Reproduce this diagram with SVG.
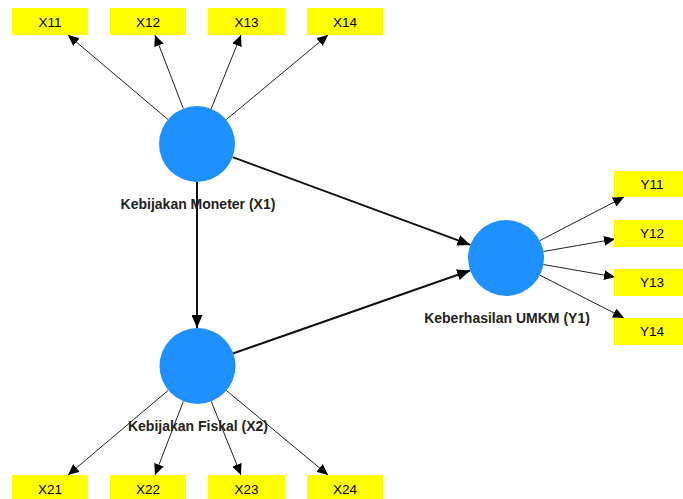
<svg xmlns="http://www.w3.org/2000/svg" width="683" height="499" viewBox="0 0 683 499">
<style>
.box{fill:#ffff00;}
.bt{font-family:"Liberation Sans",Arial,sans-serif;font-size:13.5px;fill:#000;text-anchor:middle;}
.lv{fill:#1e90ff;}
.lt{font-family:"Liberation Sans",Arial,sans-serif;font-size:14px;font-weight:bold;fill:#222;text-anchor:middle;}
.thin{stroke:#222;stroke-width:1;fill:none;marker-end:url(#a1);}
.thick{stroke:#111;stroke-width:2;fill:none;marker-end:url(#a2);}
</style>
<defs>
<marker id="a1" markerUnits="userSpaceOnUse" markerWidth="12" markerHeight="10" refX="11" refY="5" orient="auto"><path d="M0,0 L11,5 L0,10 Z" fill="#000"/></marker>
<marker id="a2" markerUnits="userSpaceOnUse" markerWidth="14" markerHeight="11" refX="13" refY="5.5" orient="auto"><path d="M0,0 L13,5.5 L0,11 Z" fill="#000"/></marker>
</defs>
<rect width="683" height="499" fill="#fff"/>
<g id="connectors">
<path class="thin" d="M168,119.5 L68,35"/>
<path class="thin" d="M183.3,108.5 L155,35"/>
<path class="thin" d="M211.2,108.7 L241,35"/>
<path class="thin" d="M226.2,119.7 L328,35"/>
<path class="thin" d="M168,390.5 L68,475"/>
<path class="thin" d="M183.3,401.5 L155,475"/>
<path class="thin" d="M211.2,401.3 L241,475"/>
<path class="thin" d="M226.2,390.3 L328,475"/>
<path class="thin" d="M539.8,240.6 L624,197"/>
<path class="thin" d="M543.4,251.5 L615,239"/>
<path class="thin" d="M543.4,264.5 L615,277"/>
<path class="thin" d="M539.9,275.2 L624,318"/>
<path class="thick" d="M232.6,157.1 L470.4,244.9"/>
<path class="thick" d="M232.9,353.5 L470.1,270.5"/>
<path class="thick" d="M197,182 L197,328"/>
</g>
<g id="X11"><rect class="box" x="12" y="8" width="76" height="27"/><text class="bt" x="50" y="26.5">X11</text></g>
<g id="X12"><rect class="box" x="110" y="8" width="76" height="27"/><text class="bt" x="148" y="26.5">X12</text></g>
<g id="X13"><rect class="box" x="208" y="8" width="77" height="27"/><text class="bt" x="246.5" y="26.5">X13</text></g>
<g id="X14"><rect class="box" x="307" y="8" width="76" height="27"/><text class="bt" x="345" y="26.5">X14</text></g>
<g id="X21"><rect class="box" x="12" y="475" width="76" height="27"/><text class="bt" x="50" y="493.5">X21</text></g>
<g id="X22"><rect class="box" x="110" y="475" width="76" height="27"/><text class="bt" x="148" y="493.5">X22</text></g>
<g id="X23"><rect class="box" x="208" y="475" width="77" height="27"/><text class="bt" x="246.5" y="493.5">X23</text></g>
<g id="X24"><rect class="box" x="307" y="475" width="76" height="27"/><text class="bt" x="345" y="493.5">X24</text></g>
<g id="Y11"><rect class="box" x="614" y="171" width="76" height="26"/><text class="bt" x="652" y="188.5">Y11</text></g>
<g id="Y12"><rect class="box" x="614" y="220" width="76" height="27"/><text class="bt" x="652" y="238">Y12</text></g>
<g id="Y13"><rect class="box" x="614" y="269" width="76" height="27"/><text class="bt" x="652" y="287">Y13</text></g>
<g id="Y14"><rect class="box" x="614" y="318" width="76" height="27"/><text class="bt" x="652" y="336">Y14</text></g>
<g id="X1"><circle class="lv" cx="197" cy="144" r="38"/><text class="lt" x="198" y="209">Kebijakan Moneter (X1)</text></g>
<g id="X2"><circle class="lv" cx="197.5" cy="366" r="38"/><text class="lt" x="198" y="431">Kebijakan Fiskal (X2)</text></g>
<g id="Y1"><circle class="lv" cx="506" cy="258" r="38"/><text class="lt" x="507" y="323">Keberhasilan UMKM (Y1)</text></g>
</svg>
